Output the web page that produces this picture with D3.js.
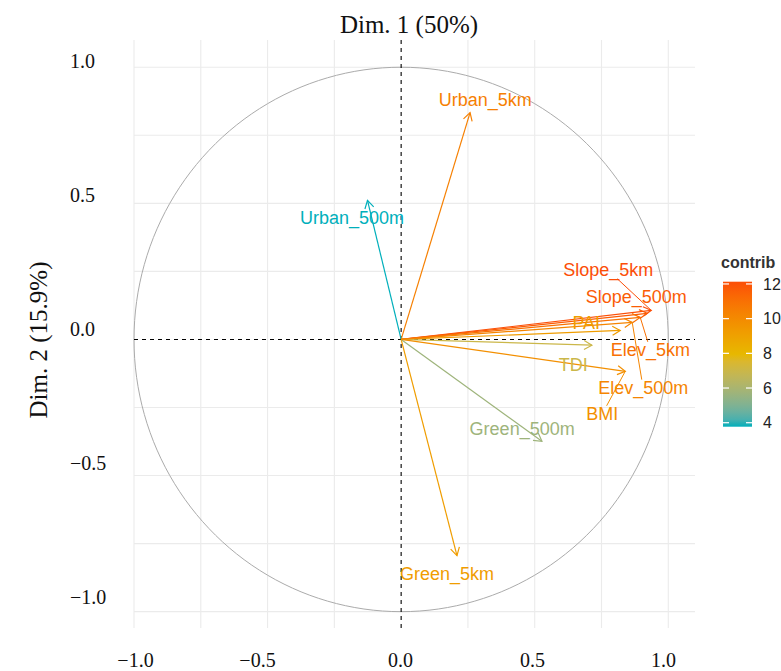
<!DOCTYPE html>
<html>
<head>
<meta charset="utf-8">
<script src="https://cdn.jsdelivr.net/npm/d3@7"></script>
<style>
  body { margin: 0; background: #fff; }
  svg { display: block; }
</style>
</head>
<body>
<svg id="chart" width="781" height="671"></svg>
<script>
/* Data: variable coordinates on Dim 1 / Dim 2 and contribution */
var vars    = ['Urban_5km', 'Urban_500m', 'Green_5km', 'Green_500m', 'Slope_5km', 'Slope_500m', 'PAI', 'Elev_5km', 'TDI', 'Elev_500m', 'BMI'];
var dim1    = [0.258, -0.126, 0.209, 0.527, 0.936, 0.921, 0.820, 0.895, 0.714, 0.865, 0.839];
var dim2    = [0.833, 0.511, -0.794, -0.374, 0.107, 0.096, 0.033, 0.081, -0.021, 0.0625, -0.117];
var contrib = [10.4, 3.8, 9.2, 5.7, 12.1, 11.7, 9.2, 11.0, 7.0, 10.2, 9.8];

/* Repelled label positions (data units) */
var labX = [0.315, -0.184, 0.172, 0.453, 0.775, 0.880, 0.693, 0.933, 0.644, 0.906, 0.753];
var labY = [0.882, 0.449, -0.860, -0.327, 0.257, 0.158, 0.0625, -0.037, -0.092, -0.176, -0.272];
var segLabels = ['Slope_5km', 'Elev_5km', 'Elev_500m', 'BMI'];

var axisTicks = [-1, -0.5, 0, 0.5, 1];
var gridTicks = [-1, -0.75, -0.5, -0.25, 0.25, 0.5, 0.75, 1];
var legendTicks = [4, 6, 8, 10, 12];
var gradCols = ['#00AFBB', '#E7B800', '#FC4E07'];

var svg = d3.select('#chart');

var x = d3.scaleLinear().domain([-1.0, 1.1]).range([134, 695]),
    y = d3.scaleLinear().domain([-1.06, 1.1]).range([628, 40]);

// tick label placement (as laid out in the figure)
var xLab = d3.scaleLinear().domain([-1, -0.5, 0, 0.5, 1]).range([135, 257, 400, 532, 663]),
    yLab = d3.scaleLinear().domain([-1, 1]).range([597, 61]);

var cExt = d3.extent(contrib);
var col = d3.scaleLinear()
    .domain([cExt[0], (cExt[0] + cExt[1]) / 2, cExt[1]])
    .range(gradCols)
    .interpolate(d3.interpolateLab);

/* grid */
var grid = svg.append('g').attr('class', 'grid');
grid.selectAll('.gx').data(gridTicks).enter().append('line')
    .attr('x1', function(d) { return x(d); }).attr('x2', function(d) { return x(d); })
    .attr('y1', y.range()[1]).attr('y2', y.range()[0])
    .attr('stroke', '#EBEBEB').attr('stroke-width', 1.1);
grid.selectAll('.gy').data(gridTicks).enter().append('line')
    .attr('y1', function(d) { return y(d); }).attr('y2', function(d) { return y(d); })
    .attr('x1', x.range()[0]).attr('x2', x.range()[1])
    .attr('stroke', '#EBEBEB').attr('stroke-width', 1.1);

/* correlation circle */
var circ = d3.range(0, 361, 2).map(function(a) {
  var t = a * Math.PI / 180;
  return [Math.cos(t), Math.sin(t)];
});
svg.append('path')
    .datum(circ)
    .attr('fill', 'none')
    .attr('stroke', '#ABABAB')
    .attr('stroke-width', 1)
    .attr('d', d3.line().x(function(d) { return x(d[0]); }).y(function(d) { return y(d[1]); }));

/* dashed axes */
svg.append('line')
    .attr('x1', x.range()[0]).attr('x2', x.range()[1])
    .attr('y1', y(0)).attr('y2', y(0))
    .attr('stroke', '#000').attr('stroke-width', 1.1).attr('stroke-dasharray', '4,4');
svg.append('line')
    .attr('x1', x(0)).attr('x2', x(0))
    .attr('y1', y.range()[1]).attr('y2', y.range()[0])
    .attr('stroke', '#000').attr('stroke-width', 1.1).attr('stroke-dasharray', '4,4');

/* arrows */
var data = vars.map(function(v, i) {
  return {name: v, x: dim1[i], y: dim2[i], c: contrib[i], lx: labX[i], ly: labY[i]};
});

var arrows = svg.append('g').attr('class', 'arrows');
data.forEach(function(d) {
  var x0 = x(0), y0 = y(0), x1 = x(d.x), y1 = y(d.y);
  var ang = Math.atan2(y1 - y0, x1 - x0), len = 9, spread = Math.PI / 6;
  var g = arrows.append('g').attr('stroke', col(d.c)).attr('fill', 'none')
      .attr('stroke-width', 1.2);
  g.append('line').attr('x1', x0).attr('y1', y0).attr('x2', x1).attr('y2', y1);
  g.append('path').attr('d',
      'M' + (x1 - len * Math.cos(ang - spread)) + ',' + (y1 - len * Math.sin(ang - spread)) +
      'L' + x1 + ',' + y1 +
      'L' + (x1 - len * Math.cos(ang + spread)) + ',' + (y1 - len * Math.sin(ang + spread)));
});

/* labels + repel segments */
var labels = svg.append('g').attr('class', 'labels')
    .style('font-family', '"Liberation Sans", Arial, sans-serif')
    .style('font-size', '18px');

data.forEach(function(d) {
  var t = labels.append('text')
      .attr('x', x(d.lx)).attr('y', y(d.ly))
      .attr('dy', '0.35em')
      .attr('text-anchor', 'middle')
      .attr('fill', col(d.c))
      .text(d.name);
  if (segLabels.indexOf(d.name) >= 0) {
    var b = t.node().getBBox();
    var cx = b.x + b.width / 2, cy = b.y + b.height / 2;
    var tx = x(d.x), ty = y(d.y);
    var dx = tx - cx, dy = ty - cy;
    var s = Math.min(Math.abs((b.width / 2) / (dx || 1e-9)), Math.abs((b.height / 2 - 2) / (dy || 1e-9)));
    labels.append('line')
        .attr('x1', cx + dx * s).attr('y1', cy + dy * s)
        .attr('x2', tx).attr('y2', ty)
        .attr('stroke', col(d.c)).attr('stroke-width', 1);
  }
});

/* axis tick labels */
var serif = '"Liberation Serif", "DejaVu Serif", serif';
var xAxis = svg.append('g')
    .attr('transform', 'translate(0,650)')
    .call(d3.axisBottom(xLab).tickValues(axisTicks).tickFormat(d3.format('.1f')).tickSize(0));
xAxis.select('.domain').remove();
xAxis.selectAll('text').style('font-family', serif).style('font-size', '20px').attr('fill', '#111');

var yAxis = svg.append('g')
    .attr('transform', 'translate(70,0)')
    .call(d3.axisLeft(yLab).tickValues(axisTicks).tickFormat(d3.format('.1f')).tickSize(0));
yAxis.select('.domain').remove();
yAxis.selectAll('text').attr('x', 0).attr('text-anchor', 'start')
    .style('font-family', serif).style('font-size', '20px').attr('fill', '#111');

/* titles */
svg.append('text')
    .attr('x', 409).attr('y', 33)
    .attr('text-anchor', 'middle')
    .style('font-family', serif).style('font-size', '25px').attr('fill', '#111')
    .text('Dim. 1 (50%)');
svg.append('text')
    .attr('transform', 'translate(47,340) rotate(-90)')
    .attr('text-anchor', 'middle')
    .style('font-family', serif).style('font-size', '25px').attr('fill', '#111')
    .text('Dim. 2 (15.9%)');

/* legend */
var legTop = 281.7, legBot = 426.7;
var lScale = d3.scaleLinear().domain([3.77, 12.13]).range([legBot, legTop]);

var defs = svg.append('defs');
var grad = defs.append('linearGradient').attr('id', 'cgrad')
    .attr('x1', 0).attr('y1', 1).attr('x2', 0).attr('y2', 0);
d3.range(0, 1.0001, 0.05).forEach(function(t) {
  var v = lScale.domain()[0] + t * (lScale.domain()[1] - lScale.domain()[0]);
  grad.append('stop').attr('offset', t).attr('stop-color', col(Math.max(cExt[0], Math.min(cExt[1], v))));
});

var leg = svg.append('g').attr('class', 'legend');
leg.append('text')
    .attr('x', 721).attr('y', 268)
    .style('font-family', '"Liberation Sans", Arial, sans-serif')
    .style('font-size', '16px').style('font-weight', 'bold').attr('fill', '#333')
    .text('contrib');
leg.append('rect')
    .attr('x', 723).attr('y', legTop)
    .attr('width', 29).attr('height', legBot - legTop)
    .attr('fill', 'url(#cgrad)');
legendTicks.forEach(function(v) {
  leg.append('line').attr('x1', 723).attr('x2', 729)
      .attr('y1', lScale(v)).attr('y2', lScale(v)).attr('stroke', '#fff').attr('stroke-width', 1.2);
  leg.append('line').attr('x1', 746).attr('x2', 752)
      .attr('y1', lScale(v)).attr('y2', lScale(v)).attr('stroke', '#fff').attr('stroke-width', 1.2);
  leg.append('text')
      .attr('x', 763).attr('y', lScale(v)).attr('dy', '0.35em')
      .style('font-family', '"Liberation Sans", Arial, sans-serif')
      .style('font-size', '16px').attr('fill', '#222')
      .text(v);
});
</script>
</body>
</html>
